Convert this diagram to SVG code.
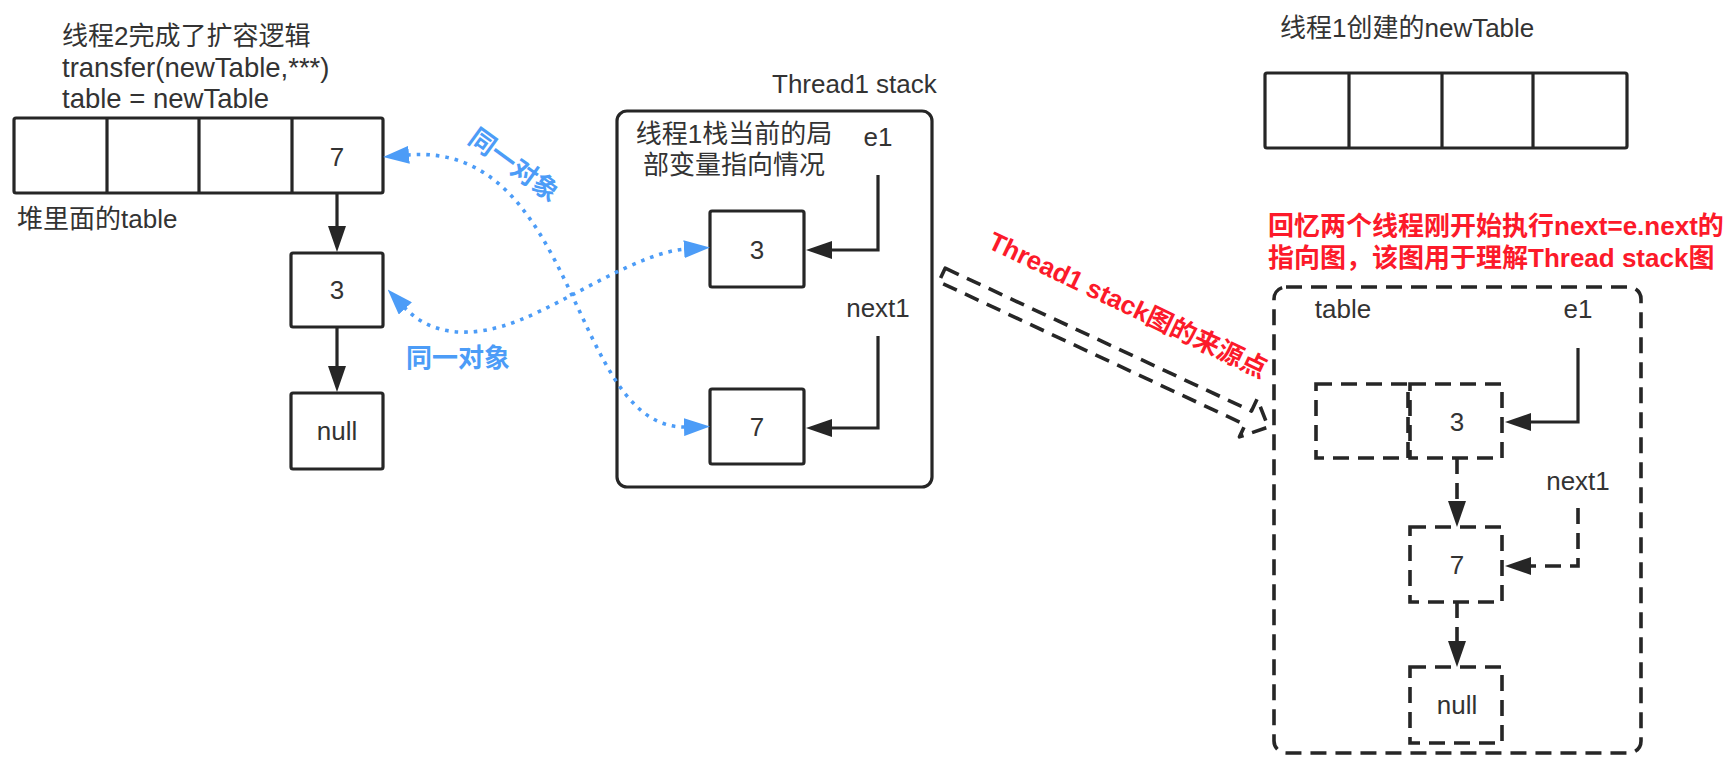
<svg xmlns="http://www.w3.org/2000/svg" width="1730" height="780" viewBox="0 0 1730 780">
<defs>
<style>
text{font-family:"Liberation Sans","Noto Sans CJK SC",sans-serif;font-size:26px;fill:#333}
.mid{text-anchor:middle}
.lat{font-size:27.5px}
.box{fill:#fff;stroke:#262626;stroke-width:3.2}
.dbox{fill:none;stroke:#262626;stroke-width:3.6;stroke-dasharray:16 9}
.ln{fill:none;stroke:#262626;stroke-width:3.2}
.dln{fill:none;stroke:#262626;stroke-width:3.6;stroke-dasharray:16 9}
.blue{fill:none;stroke:#4c9cf7;stroke-width:3.6;stroke-dasharray:3.6 6}
.bt{fill:#4c9cf7;font-weight:bold}
.rt{fill:#fc1a2a;font-weight:bold}
</style>
<marker id="ab" markerUnits="userSpaceOnUse" markerWidth="26" markerHeight="18" refX="2" refY="9" orient="auto-start-reverse">
<path d="M0,0 L26,9 L0,18 Z" fill="#262626"/>
</marker>
<marker id="abl" markerUnits="userSpaceOnUse" markerWidth="26" markerHeight="18" refX="2" refY="9" orient="auto-start-reverse">
<path d="M0,0 L26,9 L0,18 Z" fill="#4c9cf7"/>
</marker>
</defs>
<rect width="1730" height="780" fill="#fff"/>

<g id="title-left">
<text x="62" y="45">线程2完成了扩容逻辑</text>
<text class="lat" x="62" y="77">transfer(newTable,***)</text>
<text class="lat" x="62" y="108">table = newTable</text>
</g>

<g id="heap-table">
<rect class="box" x="14" y="118" width="369" height="75" rx="2"/>
<line class="ln" x1="107" y1="118" x2="107" y2="193"/>
<line class="ln" x1="199" y1="118" x2="199" y2="193"/>
<line class="ln" x1="292" y1="118" x2="292" y2="193"/>
<text class="mid" x="337" y="166">7</text>
</g>
<g id="heap-label"><text x="17" y="228">堆里面的table</text></g>

<g id="heap-node3">
<rect class="box" x="291" y="253" width="92" height="74" rx="2"/>
<text class="mid" x="337" y="299">3</text>
</g>
<g id="heap-null">
<rect class="box" x="291" y="393" width="92" height="76" rx="2"/>
<text class="mid" x="337" y="440">null</text>
</g>

<g id="stack-title"><text x="772" y="93">Thread1 stack</text></g>
<g id="thread1-stack">
<rect class="box" x="617" y="111" width="315" height="376" rx="10"/>
<text class="mid" x="734" y="143">线程1栈当前的局</text>
<text class="mid" x="734" y="174">部变量指向情况</text>
<text class="mid" x="878" y="146">e1</text>
<text class="mid" x="878" y="317">next1</text>
</g>
<g id="stack-node3">
<rect class="box" x="710" y="211" width="94" height="76" rx="2"/>
<text class="mid" x="757" y="259">3</text>
</g>
<g id="stack-node7">
<rect class="box" x="710" y="389" width="94" height="75" rx="2"/>
<text class="mid" x="757" y="436">7</text>
</g>

<g id="newtable-title"><text x="1280" y="37">线程1创建的newTable</text></g>
<g id="new-table">
<rect class="box" x="1265" y="73" width="362" height="75" rx="2"/>
<line class="ln" x1="1349" y1="73" x2="1349" y2="148"/>
<line class="ln" x1="1442" y1="73" x2="1442" y2="148"/>
<line class="ln" x1="1533" y1="73" x2="1533" y2="148"/>
</g>

<g id="red-note">
<text class="rt" x="1268" y="235">回忆两个线程刚开始执行next=e.next的</text>
<text class="rt" x="1268" y="267">指向图，该图用于理解Thread stack图</text>
</g>

<g id="recall-box">
<rect class="dbox" x="1274" y="287" width="367" height="466" rx="12"/>
<text class="mid" x="1343" y="318">table</text>
<text class="mid" x="1578" y="318">e1</text>
<text class="mid" x="1578" y="490">next1</text>
</g>
<g id="recall-empty"><rect class="dbox" x="1316" y="384" width="92" height="74"/></g>
<g id="recall-node3">
<rect class="dbox" x="1410" y="384" width="92" height="74"/>
<text class="mid" x="1457" y="431">3</text>
</g>
<g id="recall-node7">
<rect class="dbox" x="1410" y="527" width="92" height="75"/>
<text class="mid" x="1457" y="574">7</text>
</g>
<g id="recall-null">
<rect class="dbox" x="1410" y="667" width="92" height="76"/>
<text class="mid" x="1457" y="714">null</text>
</g>

<g id="connectors">
<line class="ln" x1="337" y1="193" x2="337" y2="228" marker-end="url(#ab)"/>
<line class="ln" x1="337" y1="327" x2="337" y2="368" marker-end="url(#ab)"/>
<path class="ln" d="M878,175 V250 H830" marker-end="url(#ab)"/>
<path class="ln" d="M878,336 V428 H830" marker-end="url(#ab)"/>
<path class="ln" d="M1578,348 V422 H1529" marker-end="url(#ab)"/>
<path class="dln" d="M1578,508 V566 H1529" marker-end="url(#ab)"/>
<path class="dln" d="M1457,458 V503" marker-end="url(#ab)"/>
<path class="dln" d="M1457,602 V643" marker-end="url(#ab)"/>
<path class="blue" d="M407,155 C580,140 570,430 686,427" marker-start="url(#abl)" marker-end="url(#abl)"/>
<path class="blue" d="M404,307 C430,335 470,340 520,320 S640,252 686,249" marker-start="url(#abl)" marker-end="url(#abl)"/>
<path class="dln" transform="translate(942,275) rotate(25)" d="M0,-7.5 L338,-7.5 L338,-21 L360,0 L338,21 L338,7.5 L0,7.5 Z" style="stroke-dasharray:15 9;stroke-linejoin:round"/>
</g>

<g id="labels">
<text class="bt mid" x="458" y="367">同一对象</text>
<text class="bt mid" transform="translate(514,165) rotate(36)" x="0" y="9">同一对象</text>
<text class="rt mid" transform="translate(1128,305) rotate(25.5)" x="0" y="9">Thread1 stack图的来源点</text>
</g>
</svg>
